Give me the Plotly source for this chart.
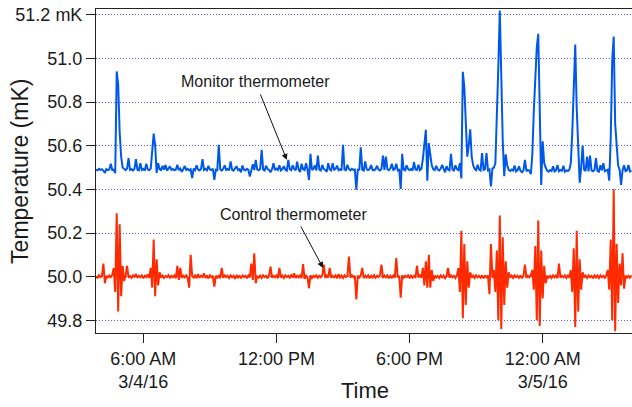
import pandas as pd
import plotly.graph_objects as go

# ---- data (mK), sampled every 4 minutes from 3:52 AM on 3/4/16 ----
start_time = "2016-03-04 03:52"
sample_step = "4min"

monitor_mK = [
    50.490, 50.487, 50.494, 50.489, 50.492, 50.486, 50.475, 50.493, 50.488, 50.491,
    50.517, 50.489, 50.490, 50.474, 50.940, 50.880, 50.660, 50.550, 50.500, 50.492,
    50.488, 50.495, 50.543, 50.489, 50.493, 50.486, 50.494, 50.538, 50.490, 50.487,
    50.520, 50.489, 50.494, 50.486, 50.517, 50.491, 50.488, 50.495, 50.560, 50.655,
    50.600, 50.475, 50.520, 50.493, 50.488, 50.508, 50.490, 50.512, 50.486, 50.494,
    50.505, 50.489, 50.493, 50.487, 50.491, 50.512, 50.488, 50.495, 50.480, 50.492,
    50.507, 50.489, 50.494, 50.487, 50.492, 50.451, 50.495, 50.488, 50.510, 50.490,
    50.486, 50.493, 50.538, 50.489, 50.494, 50.487, 50.508, 50.491, 50.488, 50.495,
    50.443, 50.490, 50.487, 50.604, 50.492, 50.486, 50.494, 50.510, 50.489, 50.493,
    50.487, 50.528, 50.490, 50.486, 50.494, 50.506, 50.488, 50.492, 50.478, 50.509,
    50.490, 50.487, 50.494, 50.489, 50.459, 50.493, 50.515, 50.488, 50.535, 50.491,
    50.487, 50.494, 50.581, 50.490, 50.486, 50.508, 50.493, 50.489, 50.478, 50.492,
    50.520, 50.488, 50.495, 50.489, 50.510, 50.487, 50.493, 50.506, 50.490, 50.486,
    50.535, 50.492, 50.488, 50.510, 50.494, 50.487, 50.527, 50.491, 50.479, 50.517,
    50.493, 50.488, 50.520, 50.490, 50.443, 50.563, 50.489, 50.494, 50.510, 50.487,
    50.555, 50.490, 50.486, 50.512, 50.493, 50.489, 50.480, 50.520, 50.491, 50.487,
    50.520, 50.490, 50.494, 50.509, 50.488, 50.492, 50.486, 50.604, 50.491, 50.488,
    50.512, 50.493, 50.487, 50.494, 50.489, 50.491, 50.398, 50.493, 50.488, 50.592,
    50.490, 50.486, 50.528, 50.492, 50.488, 50.494, 50.511, 50.489, 50.487, 50.493,
    50.508, 50.490, 50.486, 50.494, 50.555, 50.489, 50.550, 50.492, 50.488, 50.495,
    50.517, 50.489, 50.493, 50.517, 50.487, 50.492, 50.402, 50.563, 50.490, 50.487,
    50.510, 50.493, 50.488, 50.494, 50.486, 50.524, 50.491, 50.489, 50.512, 50.488,
    50.494, 50.540, 50.600, 50.673, 50.440, 50.612, 50.560, 50.510, 50.492, 50.488,
    50.508, 50.490, 50.486, 50.494, 50.512, 50.489, 50.478, 50.506, 50.491, 50.487,
    50.563, 50.490, 50.486, 50.510, 50.493, 50.488, 50.520, 50.450, 50.938, 50.870,
    50.690, 50.550, 50.600, 50.675, 50.550, 50.510, 50.494, 50.488, 50.512, 50.490,
    50.486, 50.566, 50.489, 50.493, 50.566, 50.487, 50.491, 50.413, 50.495, 50.500,
    50.520, 50.700, 50.960, 51.219, 50.850, 50.620, 50.460, 50.560, 50.510, 50.489,
    50.484, 50.491, 50.486, 50.509, 50.482, 50.488, 50.505, 50.484, 50.478, 50.487,
    50.535, 50.483, 50.489, 50.485, 50.470, 50.560, 50.760, 50.900, 51.050, 51.112,
    50.650, 50.420, 50.620, 50.520, 50.500, 50.486, 50.481, 50.488, 50.484, 50.506,
    50.482, 50.487, 50.512, 50.483, 50.489, 50.485, 50.508, 50.481, 50.487, 50.484,
    50.490, 50.520, 50.660, 50.920, 51.063, 50.770, 50.580, 50.430, 50.500, 50.600,
    50.490, 50.484, 50.550, 50.482, 50.555, 50.487, 50.483, 50.489, 50.543, 50.485,
    50.481, 50.510, 50.487, 50.520, 50.483, 50.488, 50.490, 50.440, 50.640, 50.990,
    51.100, 50.700, 50.580, 50.510, 50.490, 50.420, 50.488, 50.510, 50.483, 50.487,
    50.512, 50.482, 50.486,
]

control_mK = [
    50.000, 49.995, 50.006, 49.997, 50.004, 50.060, 49.970, 50.003, 49.996, 50.005,
    49.998, 50.008, 50.040, 49.930, 50.290, 49.840, 50.240, 49.910, 50.050, 49.980,
    50.004, 50.050, 49.996, 50.003, 49.994, 50.006, 49.999, 50.012, 49.995, 50.004,
    49.997, 50.006, 49.993, 50.004, 49.998, 50.010, 49.995, 50.040, 49.950, 50.170,
    49.910, 50.080, 49.960, 50.020, 49.996, 50.005, 49.994, 50.003, 49.998, 50.007,
    49.995, 50.004, 49.997, 50.006, 49.993, 50.050, 49.985, 50.040, 49.994, 50.005,
    49.997, 50.006, 49.994, 49.950, 50.100, 50.004, 49.996, 50.006, 49.993, 50.012,
    49.995, 50.004, 49.998, 50.015, 49.994, 50.005, 49.992, 50.006, 49.997, 50.004,
    49.955, 50.005, 49.996, 50.004, 49.993, 50.040, 49.995, 50.006, 49.998, 50.004,
    49.994, 50.006, 49.997, 50.004, 49.990, 50.007, 49.996, 50.003, 49.995, 50.006,
    49.998, 50.004, 49.993, 50.006, 49.997, 50.060, 49.985, 50.107, 49.970, 50.004,
    49.996, 50.005, 49.994, 50.006, 49.998, 50.004, 49.992, 50.006, 50.046, 49.995,
    50.004, 49.997, 50.006, 49.993, 50.040, 49.996, 50.005, 49.994, 50.006, 49.998,
    50.004, 49.995, 50.007, 49.996, 50.015, 49.994, 50.005, 49.997, 50.006, 49.993,
    50.058, 49.990, 50.005, 49.996, 49.947, 50.006, 49.994, 50.004, 49.998, 50.006,
    49.995, 50.004, 49.997, 50.006, 50.055, 49.994, 50.005, 49.996, 50.040, 49.995,
    50.004, 49.997, 50.006, 49.993, 50.012, 49.996, 50.005, 49.994, 50.006, 49.998,
    50.004, 50.092, 49.995, 50.006, 49.997, 50.004, 49.896, 50.005, 49.996, 50.006,
    50.040, 49.994, 50.005, 49.997, 50.006, 49.993, 50.004, 49.996, 50.007, 49.995,
    50.004, 49.998, 50.006, 50.055, 49.994, 50.005, 49.997, 50.006, 49.993, 50.004,
    49.996, 50.005, 49.994, 50.085, 49.997, 50.004, 49.904, 50.006, 49.995, 50.004,
    49.998, 50.006, 49.993, 50.005, 49.996, 50.004, 49.994, 50.050, 49.997, 50.006,
    49.995, 50.040, 49.960, 50.070, 49.950, 50.100, 49.950, 50.030, 49.980, 50.005,
    49.996, 50.004, 49.994, 50.006, 49.997, 50.005, 49.993, 50.004, 50.040, 49.995,
    50.006, 49.997, 50.004, 49.994, 50.006, 50.040, 49.930, 50.210, 49.810, 50.150,
    49.870, 50.070, 49.950, 50.020, 49.996, 50.005, 49.994, 50.006, 49.997, 50.004,
    49.995, 50.006, 49.993, 50.004, 49.997, 50.006, 49.920, 50.150, 49.995, 50.030,
    49.930, 50.120, 49.800, 50.280, 49.760, 50.180, 49.870, 50.070, 49.950, 50.020,
    49.996, 50.005, 49.994, 50.006, 49.997, 50.004, 49.995, 50.006, 49.993, 50.004,
    50.055, 49.994, 50.005, 49.997, 50.006, 50.030, 49.940, 50.140, 49.800, 50.257,
    49.774, 50.120, 49.900, 50.050, 49.970, 50.005, 49.996, 50.004, 49.994, 50.006,
    49.997, 50.005, 49.993, 50.060, 49.995, 50.004, 49.997, 50.006, 49.994, 50.005,
    49.996, 50.030, 49.930, 50.130, 49.770, 50.210, 49.840, 50.080, 49.940, 50.020,
    49.996, 50.005, 49.994, 50.006, 49.997, 50.004, 49.993, 50.006, 49.996, 50.005,
    49.994, 50.006, 49.997, 50.004, 49.995, 50.006, 50.030, 49.940, 50.170, 49.800,
    50.400, 49.750, 50.150, 49.880, 50.060, 49.960, 50.107, 49.945, 50.005, 49.996,
    50.004, 49.995, 50.006,
]

y_tick_values = [49.8, 50.0, 50.2, 50.4, 50.6, 50.8, 51.0, 51.2]
y_tick_labels = ["49.8", "50.0", "50.2", "50.4", "50.6", "50.8", "51.0", "51.2 mK"]
x_tick_values = ["2016-03-04 06:00", "2016-03-04 12:00", "2016-03-04 18:00", "2016-03-05 00:00"]
x_tick_labels = ["6:00 AM<br>3/4/16", "12:00 PM", "6:00 PM", "12:00 AM<br>3/5/16"]
x_range = ["2016-03-04 03:52", "2016-03-05 04:01:30"]
y_range = [49.742, 51.226]

times = pd.date_range(start=start_time, periods=len(monitor_mK), freq=sample_step)

FONT = "Liberation Sans, Arial, sans-serif"
TXT = "#1a1a1a"

fig = go.Figure()
fig.add_trace(go.Scatter(x=times, y=monitor_mK, mode="lines",
                         line=dict(color="#0058E8", width=2), name="Monitor thermometer"))
fig.add_trace(go.Scatter(x=times, y=control_mK, mode="lines",
                         line=dict(color="#FF2A00", width=2), name="Control thermometer"))

fig.update_layout(
    width=632, height=407,
    margin=dict(l=96, r=0, t=9, b=74),
    plot_bgcolor="white", paper_bgcolor="white",
    showlegend=False,
    font=dict(family=FONT, color=TXT),
)

fig.update_xaxes(
    type="date", range=x_range,
    tickmode="array", tickvals=x_tick_values, ticktext=x_tick_labels,
    ticks="outside", ticklen=9, tickwidth=1, tickcolor="#222",
    showline=True, linecolor="#222", linewidth=1, mirror=True,
    showgrid=False, zeroline=False,
    tickfont=dict(family=FONT, size=18, color=TXT),
)
fig.update_yaxes(
    range=y_range,
    tickmode="array", tickvals=y_tick_values, ticktext=y_tick_labels,
    ticks="outside", ticklen=9, tickwidth=1, tickcolor="#222",
    showline=True, linecolor="#222", linewidth=1,
    showgrid=True, gridcolor="#5a5aff", griddash="1px,2px", gridwidth=1,
    zeroline=False,
    tickfont=dict(family=FONT, size=18, color=TXT),
)

# axis titles as annotations
fig.add_annotation(text="Temperature (mK)", xref="paper", yref="paper",
                   x=-0.142, y=0.5, xanchor="center", yanchor="middle",
                   textangle=-90, showarrow=False,
                   font=dict(family=FONT, size=23, color=TXT))
fig.add_annotation(text="Time", xref="paper", yref="paper",
                   x=0.501, y=-0.176, xanchor="center", yanchor="middle",
                   showarrow=False, font=dict(family=FONT, size=22, color=TXT))

# series labels and arrows
fig.add_annotation(text="Monitor thermometer", x="2016-03-04 11:02", y=50.893,
                   xanchor="center", yanchor="middle", showarrow=False,
                   font=dict(family=FONT, size=16, color=TXT))
fig.add_annotation(text="", x="2016-03-04 12:28", y=50.535,
                   ax=-27, ay=-67, showarrow=True, arrowhead=2, arrowsize=1.2,
                   arrowwidth=1, arrowcolor="#111")
fig.add_annotation(text="Control thermometer", x="2016-03-04 12:46", y=50.287,
                   xanchor="center", yanchor="middle", showarrow=False,
                   font=dict(family=FONT, size=16, color=TXT))
fig.add_annotation(text="", x="2016-03-04 14:06", y=50.04,
                   ax=-23, ay=-43, showarrow=True, arrowhead=2, arrowsize=1.2,
                   arrowwidth=1, arrowcolor="#111")

fig.write_html("out.html",
               config={"displayModeBar": False},
               post_script="document.body.style.margin='0';document.body.style.overflow='hidden';")
